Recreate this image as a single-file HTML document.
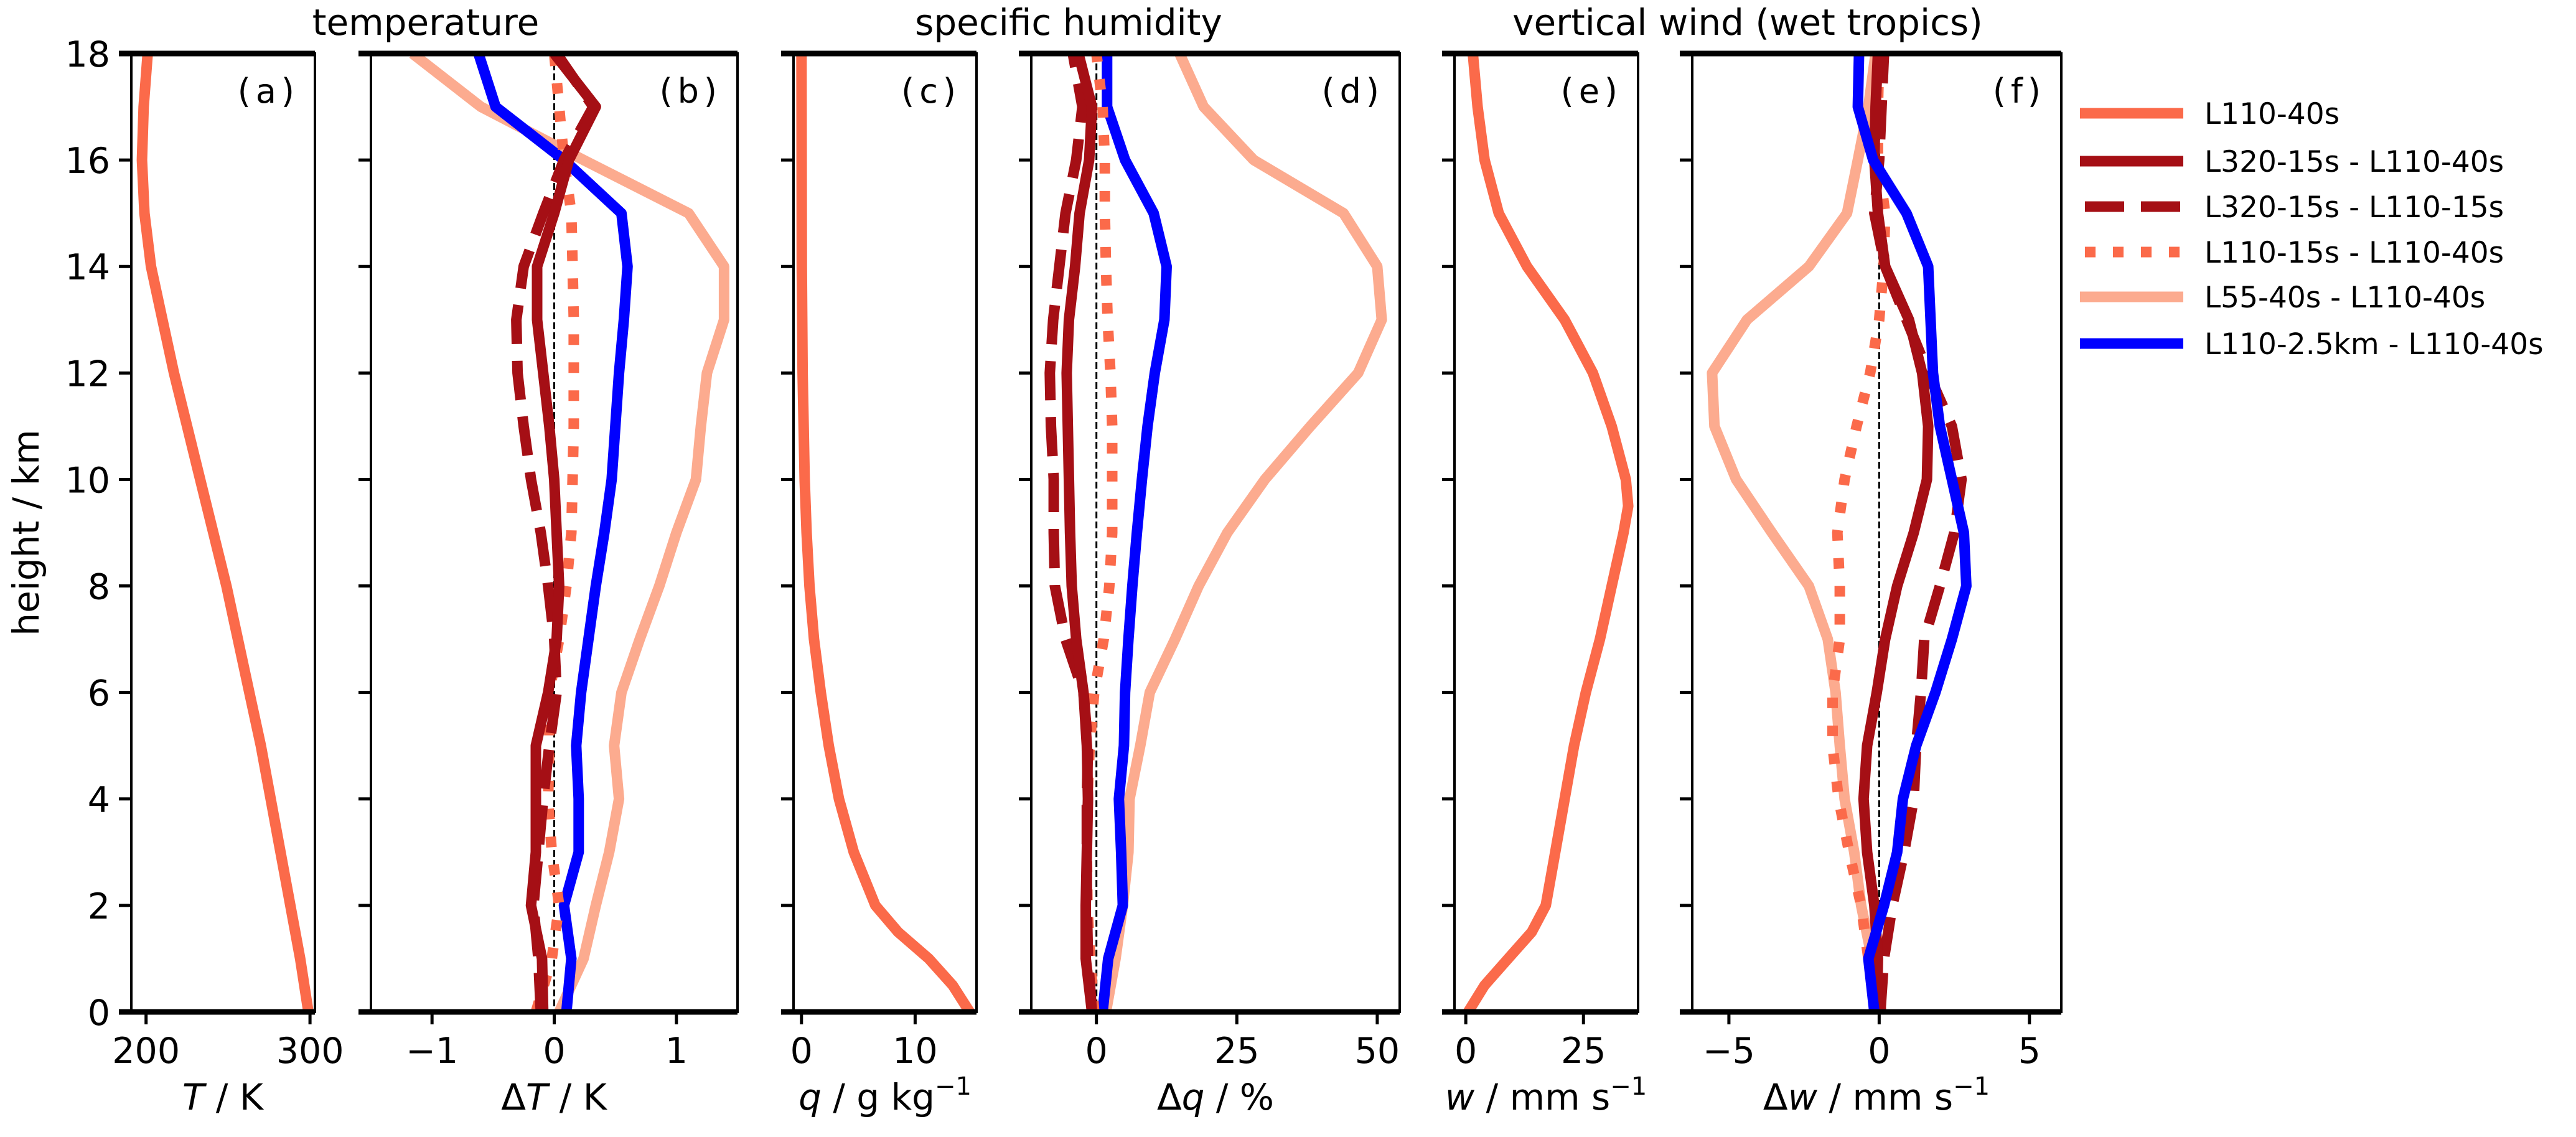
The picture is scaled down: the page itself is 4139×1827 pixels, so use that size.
<!DOCTYPE html>
<html><head><meta charset="utf-8">
<style>
html,body{margin:0;padding:0;background:#fff;}
svg{display:block;font-family:"DejaVu Sans","Liberation Sans",sans-serif;}
</style></head>
<body>
<svg id="fig" width="4139" height="1827" viewBox="0 0 4139 1827" xmlns="http://www.w3.org/2000/svg">
<rect x="0" y="0" width="4139" height="1827" fill="#fff"/>
<g id="plots"></g>
<text x="684" y="56" font-size="58" text-anchor="middle">temperature</text>
<text x="1717" y="56" font-size="58" text-anchor="middle">specific humidity</text>
<text x="2808" y="56" font-size="58" text-anchor="middle">vertical wind (wet tropics)</text>
<text transform="translate(62,856) rotate(-90)" font-size="58" text-anchor="middle">height / km</text>
<text x="358" y="1783" font-size="58" text-anchor="middle"><tspan font-style="italic">T</tspan> / K</text>
<text x="890" y="1783" font-size="58" text-anchor="middle">Δ<tspan font-style="italic">T</tspan> / K</text>
<text x="1422" y="1783" font-size="58" text-anchor="middle"><tspan font-style="italic">q</tspan> / g kg<tspan font-size="40" dy="-24">−1</tspan></text>
<text x="1953" y="1783" font-size="58" text-anchor="middle">Δ<tspan font-style="italic">q</tspan> / %</text>
<text x="2484" y="1783" font-size="58" text-anchor="middle"><tspan font-style="italic">w</tspan> / mm s<tspan font-size="40" dy="-24">−1</tspan></text>
<text x="3015" y="1783" font-size="58" text-anchor="middle">Δ<tspan font-style="italic">w</tspan> / mm s<tspan font-size="40" dy="-24">−1</tspan></text>
<g id="legend"></g>
</svg>
<script>
// ---- data ----
const H = [0,1,2,3,4,5,6,7,8,9,10,11,12,13,14,15,16,17,18];
const yTicks = [0,2,4,6,8,10,12,14,16,18];
const a_T = [299,294,288,282,276,270,263,256,249,241,233,225,217,210,203,199,197.5,198.5,201];
const qH = [0,0.5,1,1.5,2,3,4,5,6,7,8,9,10,12,14,18];
const c_q = [14.8,13.3,11.2,8.5,6.5,4.6,3.3,2.4,1.7,1.1,0.7,0.45,0.28,0.1,0.03,0];
const wH = [0,0.5,1,1.5,2,3,4,5,6,7,8,9,9.5,10,11,12,13,14,15,16,17,18];
const e_w = [0.5,4,9,14,17,19,21,23,25.5,28.5,31,33.5,34.5,34,31,27,21,13,7,4,2.5,1.5];

const b_solid = [-0.09,-0.10,-0.19,-0.15,-0.15,-0.15,-0.05,0.02,0.04,0.02,0.0,-0.04,-0.09,-0.14,-0.14,0.0,0.12,0.34,0.0];
const b_dashed = [-0.11,-0.13,-0.17,-0.13,-0.09,-0.04,0.02,0.0,-0.05,-0.11,-0.19,-0.25,-0.3,-0.31,-0.25,-0.09,0.08,0.32,0.02];
const b_dotted = [-0.15,-0.02,0.04,-0.02,-0.05,-0.04,-0.04,0.04,0.1,0.14,0.15,0.16,0.16,0.16,0.15,0.14,0.08,0.04,0.0];
const b_light = [0.04,0.24,0.34,0.45,0.53,0.49,0.55,0.7,0.86,1.0,1.16,1.2,1.25,1.39,1.39,1.1,0.24,-0.6,-1.16];
const b_blue = [0.1,0.14,0.08,0.2,0.2,0.18,0.22,0.28,0.34,0.41,0.47,0.5,0.53,0.57,0.6,0.55,0.08,-0.48,-0.62];

const d_solid = [-0.8,-1.9,-1.9,-1.7,-1.5,-1.7,-2.3,-3.6,-4.4,-4.7,-4.9,-5.1,-5.3,-4.9,-3.8,-3.0,-1.3,-0.8,-3.2];
const d_dashed = [-0.8,-1.5,-1.7,-1.7,-1.7,-1.5,-2.3,-5.5,-7.4,-7.6,-7.6,-8.1,-8.3,-7.7,-6.6,-5.5,-3.6,-2.5,-4.2];
const d_dotted = [-0.4,-1.1,-1.6,-1.7,-1.6,-1.2,-0.4,1.3,2.3,2.8,2.8,2.8,2.5,2.0,1.7,1.5,1.5,1.1,0];
const d_light = [1.7,3.4,4.7,5.7,5.9,7.8,9.5,14,18.2,23.3,30,38.1,46.6,50.8,50,44,28,19.1,14.8];
const d_blue = [1.1,2.1,4.7,4.4,4.0,4.9,5.1,5.7,6.4,7.2,8.1,9.1,10.4,12.1,12.5,10.2,5.1,1.9,1.9];

const f_solid = [-0.08,-0.04,-0.16,-0.4,-0.52,-0.4,-0.08,0.2,0.6,1.15,1.59,1.63,1.43,0.99,0.2,-0.04,-0.16,-0.12,-0.04];
const f_dashed = [0.04,0.16,0.44,0.83,1.15,1.23,1.39,1.5,2.02,2.5,2.74,2.42,1.63,0.91,0.2,-0.16,0.0,0.08,0.16];
const f_dotted = [0,-0.36,-0.6,-1.0,-1.35,-1.55,-1.55,-1.31,-1.31,-1.39,-1.15,-0.75,-0.3,0.0,0.15,0.2,-0.04,-0.04,0];
const f_light = [0.08,-0.24,-0.6,-0.83,-1.15,-1.31,-1.45,-1.71,-2.34,-3.57,-4.76,-5.48,-5.56,-4.4,-2.34,-1.07,-0.71,-0.36,-0.12];
const f_blue = [-0.16,-0.36,0.16,0.6,0.79,1.23,1.87,2.42,2.9,2.82,2.42,2.02,1.79,1.71,1.63,0.91,-0.2,-0.71,-0.67];

const legendLabels = ["L110-40s","L320-15s - L110-40s","L320-15s - L110-15s","L110-15s - L110-40s","L55-40s - L110-40s","L110-2.5km - L110-40s"];

// ---- styles ----
const C_BASE="#fb6a4a", C_DARK="#a50f15", C_LIGHT="#fcab8f", C_BLUE="#0000ff";
const ST = {
  base:{c:C_BASE,d:null}, solid:{c:C_DARK,d:null}, dashed:{c:C_DARK,d:"63 27"},
  dotted:{c:C_BASE,d:"17 28"}, light:{c:C_LIGHT,d:null}, blue:{c:C_BLUE,d:null}
};
const LW=17;
const Y0=1626, Y18=86;
function yS(h){return Y0+(Y18-Y0)*h/18;}
const NS="http://www.w3.org/2000/svg";
function mk(tag,attrs,parent){const e=document.createElementNS(NS,tag);for(const k in attrs)e.setAttribute(k,attrs[k]);parent.appendChild(e);return e;}

const panels=[
 {id:"a",x0:211,x1:506,d0:191,d1:303,ticks:[200,300],tl:["200","300"],zero:false,
  series:[["base",H,a_T]]},
 {id:"b",x0:596,x1:1185,d0:-1.5,d1:1.5,ticks:[-1,0,1],tl:["−1","0","1"],zero:true,
  series:[["light",H,b_light],["blue",H,b_blue],["dotted",H,b_dotted],["dashed",H,b_dashed],["solid",H,b_solid]]},
 {id:"c",x0:1275,x1:1569,d0:-0.7,d1:15.4,ticks:[0,10],tl:["0","10"],zero:false,
  series:[["base",qH,c_q]]},
 {id:"d",x0:1657,x1:2249,d0:-11.6,d1:54,ticks:[0,25,50],tl:["0","25","50"],zero:true,
  series:[["light",H,d_light],["blue",H,d_blue],["dotted",H,d_dotted],["dashed",H,d_dashed],["solid",H,d_solid]]},
 {id:"e",x0:2337,x1:2632,d0:-2.4,d1:36.6,ticks:[0,25],tl:["0","25"],zero:false,
  series:[["base",wH,e_w]]},
 {id:"f",x0:2719,x1:3312,d0:-6.22,d1:6.06,ticks:[-5,0,5],tl:["−5","0","5"],zero:true,
  series:[["light",H,f_light],["dotted",H,f_dotted],["dashed",H,f_dashed],["solid",H,f_solid],["blue",H,f_blue]]}
];

const root=document.getElementById("plots");
panels.forEach((p,pi)=>{
  const g=mk("g",{},root);
  
  
  const xS=v=>p.x0+(p.x1-p.x0)*(v-p.d0)/(p.d1-p.d0);
  const cid="clip"+p.id;
  const cp=mk("clipPath",{id:cid},g);
  mk("rect",{x:p.x0,y:Y18,width:p.x1-p.x0,height:Y0-Y18},cp);
  if(p.zero){
    const z=mk("line",{x1:xS(0),x2:xS(0),y1:Y18,y2:Y0,stroke:"#000","stroke-width":3,"stroke-dasharray":"11 5"},g);
    
    
  }
  const sg=mk("g",{"clip-path":"url(#"+cid+")"},g);
  p.series.forEach(s=>{
    const st=ST[s[0]];
    const pts=s[1].map((h,i)=>xS(s[2][i]).toFixed(1)+","+yS(h).toFixed(1)).join(" ");
    const a={points:pts,fill:"none",stroke:st.c,"stroke-width":LW,"stroke-linejoin":"round"};
    if(st.d)a["stroke-dasharray"]=st.d;
    const pl=mk("polyline",a,sg);
    
    
  });
  const fr=mk("rect",{x:p.x0,y:Y18,width:p.x1-p.x0,height:Y0-Y18,fill:"none",stroke:"#000","stroke-width":4},g);
  
  
  mk("line",{x1:p.x0-20,x2:p.x1,y1:Y18,y2:Y18,stroke:"#000","stroke-width":9},g);
  mk("line",{x1:p.x0-20,x2:p.x1,y1:Y0,y2:Y0,stroke:"#000","stroke-width":9},g);
  yTicks.forEach(t=>{
    mk("line",{x1:p.x0-20,x2:p.x0,y1:yS(t),y2:yS(t),stroke:"#000","stroke-width":5},g);
    if(pi===0){
      const tx=mk("text",{x:p.x0-34,y:yS(t)+21,"font-size":57,"text-anchor":"end"},g);
      tx.textContent=String(t);
      
      
    }
  });
  p.ticks.forEach((t,i)=>{
    mk("line",{x1:xS(t),x2:xS(t),y1:Y0,y2:Y0+20,stroke:"#000","stroke-width":5},g);
    const tx=mk("text",{x:xS(t),y:1708,"font-size":57,"text-anchor":"middle"},g);
    tx.textContent=p.tl[i];
    
    
  });
  const lab=mk("text",{x:p.x1-25,y:165,"font-size":54,"text-anchor":"end","letter-spacing":"8"},g);
  lab.textContent="("+p.id+")";
  
  
});

// legend
const lg=document.getElementById("legend");
const keys=["base","solid","dashed","dotted","light","blue"];
const ly=[182,259,332,405,477,552];
keys.forEach((k,i)=>{
  const st=ST[k];
  const a={x1:3342,x2:3508,y1:ly[i],y2:ly[i],stroke:st.c,"stroke-width":LW};
  if(st.d){a["stroke-dasharray"]=st.d;a.x1=3350;}
  const l=mk("line",a,lg);
  
  
  const t=mk("text",{x:3542,y:ly[i]+17,"font-size":47},lg);
  t.textContent=legendLabels[i];
  
  
});
</script>
</body></html>
